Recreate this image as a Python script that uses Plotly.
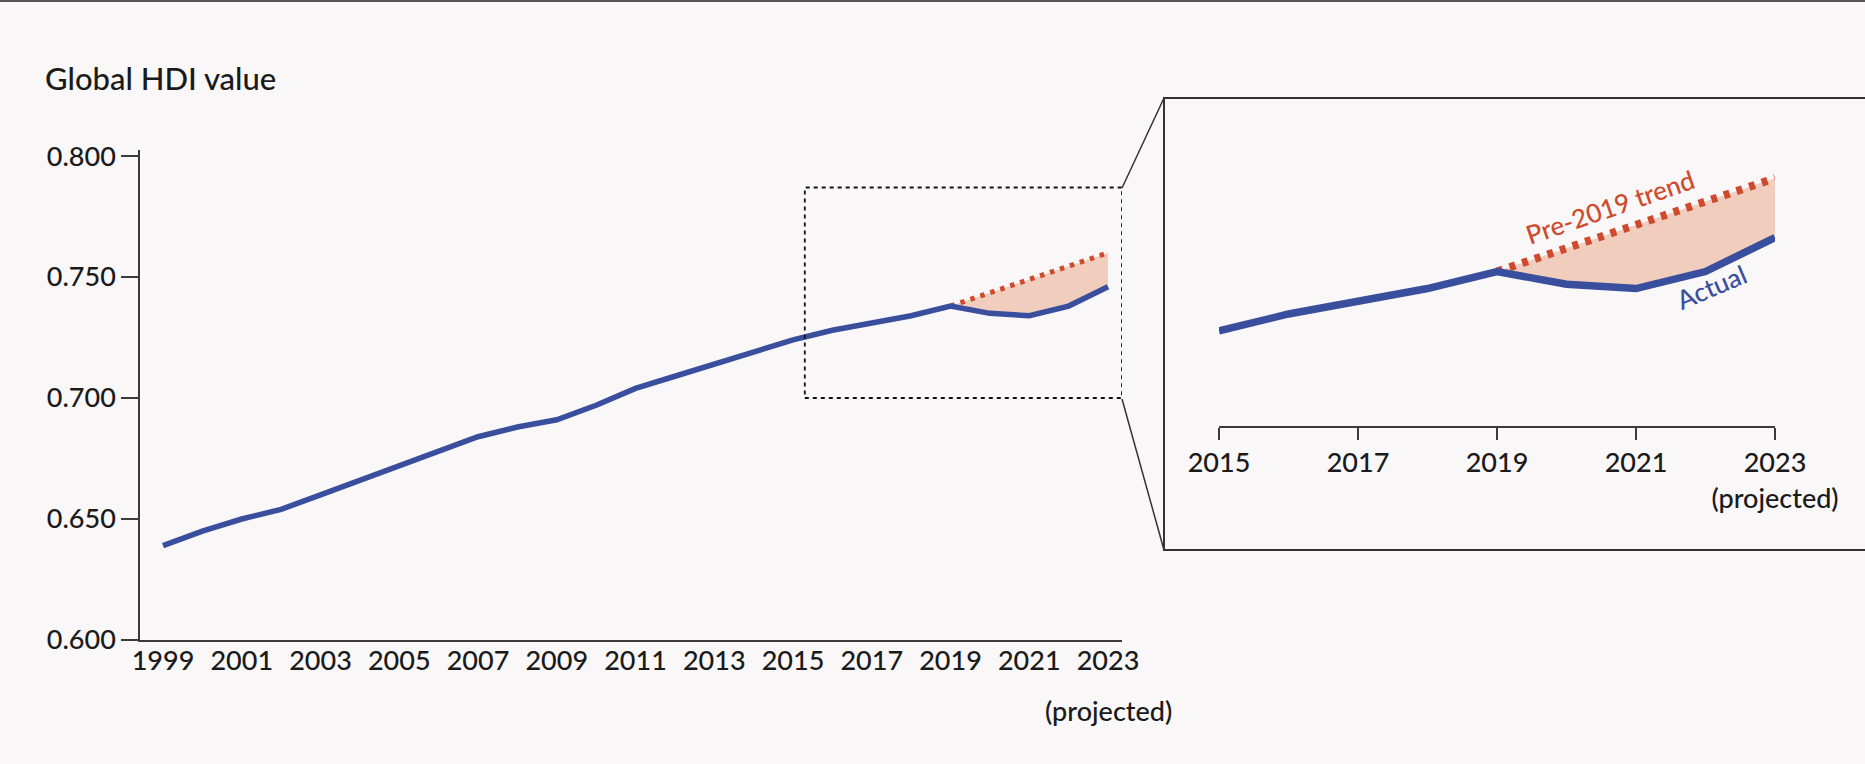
import plotly.graph_objects as go

# ---------------- data ----------------
years = list(range(1999, 2024))
hdi_actual = [0.639, 0.645, 0.650, 0.654, 0.660, 0.666, 0.672, 0.678, 0.684, 0.688,
              0.691, 0.697, 0.704, 0.709, 0.714, 0.719, 0.724, 0.728, 0.731, 0.734,
              0.738, 0.735, 0.734, 0.738, 0.746]
trend_years = [2019, 2023]
hdi_trend = [0.738, 0.760]

main_tickvals = list(range(1999, 2024, 2))
main_ticktext = [str(y) for y in main_tickvals]
projected_note = "(projected)"
inset_tickvals = [2015, 2017, 2019, 2021, 2023]
inset_ticktext = ["2015", "2017", "2019", "2021", "2023<br>(projected)"]
y_tickvals = [0.600, 0.650, 0.700, 0.750, 0.800]
y_ticktext = ["0.600", "0.650", "0.700", "0.750", "0.800"]

# ---------------- style ----------------
W, H = 1865, 764
BG = "#f9f7f8"
BLUE = "#3a4e9e"
RED = "#cf4a2c"
FILL = "#f0cdbd"
TXT = "#1a1a1a"
AX = "#3a3a3a"
FONT = "Lato"
WEIGHT = 500


def px(x):
    return x / W


def py(y):
    return 1 - y / H


i19 = years.index(2019)
i15 = years.index(2015)

fig = go.Figure()

# ---- main chart ----
fig.add_trace(go.Scatter(x=years[i19:], y=hdi_actual[i19:], mode="lines",
                         line=dict(width=0, color=BLUE), hoverinfo="skip",
                         xaxis="x", yaxis="y"))
fig.add_trace(go.Scatter(x=trend_years, y=hdi_trend, mode="lines", fill="tonexty",
                         fillcolor=FILL,
                         line=dict(color=RED, width=5, dash="4.5px,6px"),
                         xaxis="x", yaxis="y"))
fig.add_trace(go.Scatter(x=years, y=hdi_actual, mode="lines",
                         line=dict(color=BLUE, width=5.5),
                         xaxis="x", yaxis="y"))

# ---- inset ----
fig.add_trace(go.Scatter(x=years[i19:], y=hdi_actual[i19:], mode="lines",
                         line=dict(width=0, color=BLUE), hoverinfo="skip",
                         xaxis="x2", yaxis="y2"))
fig.add_trace(go.Scatter(x=trend_years, y=hdi_trend, mode="lines", fill="tonexty",
                         fillcolor=FILL,
                         line=dict(color=RED, width=8, dash="6px,7.3px"),
                         xaxis="x2", yaxis="y2"))
fig.add_trace(go.Scatter(x=years[i15:], y=hdi_actual[i15:], mode="lines",
                         line=dict(color=BLUE, width=7.5),
                         xaxis="x2", yaxis="y2"))

per_year = (1108 - 163) / 24.0
main_xrange = [1999 - (163 - 140) / per_year, 2023 + (1122 - 1108) / per_year]

tickfont = dict(family=FONT, size=27, color=TXT, weight=WEIGHT)

fig.update_layout(
    width=W, height=H, autosize=False,
    margin=dict(l=0, r=0, t=0, b=0, pad=0, autoexpand=False),
    paper_bgcolor=BG, plot_bgcolor=BG,
    showlegend=False,
    xaxis=dict(domain=[px(140), px(1122)], range=main_xrange, anchor="y",
               showline=True, linecolor=AX, linewidth=2, ticks="",
               tickmode="array", tickvals=main_tickvals, ticktext=main_ticktext,
               tickangle=0, automargin=False,
               tickfont=tickfont, showgrid=False, zeroline=False,
               ticklabelstandoff=-4),
    yaxis=dict(domain=[py(640), py(150)], range=[0.6, 0.8025], anchor="x",
               showline=True, linecolor=AX, linewidth=1.5, automargin=False,
               ticks="outside", ticklen=17, tickwidth=1.5, tickcolor=AX,
               tickmode="array", tickvals=y_tickvals, ticktext=y_ticktext,
               tickfont=tickfont, showgrid=False, zeroline=False),
    xaxis2=dict(domain=[px(1219), px(1775)], range=[2015, 2023], anchor="y2",
                showline=True, linecolor=AX, linewidth=2, automargin=False,
                ticks="outside", ticklen=12, tickwidth=2, tickcolor=AX,
                tickangle=0,
                tickmode="array", tickvals=inset_tickvals, ticktext=inset_ticktext,
                tickfont=tickfont, showgrid=False, zeroline=False),
    yaxis2=dict(domain=[py(426), py(98)], range=[0.7016, 0.7789], anchor="x2",
                visible=False, showgrid=False, zeroline=False, automargin=False),
)

shapes = []
# top page border
shapes.append(dict(type="line", xref="paper", yref="paper", x0=0, x1=1,
                   y0=py(1), y1=py(1), line=dict(color="#555555", width=2)))
# dashed zoom box on main chart
shapes.append(dict(type="rect", xref="x", yref="y", x0=2015.3, x1=main_xrange[1],
                   y0=0.700, y1=0.787, line=dict(color="#111111", width=1.8, dash="4px,4px")))
# inset frame
shapes.append(dict(type="rect", xref="paper", yref="paper", x0=px(1164), x1=1.02,
                   y0=py(550), y1=py(98), line=dict(color="#333333", width=2)))
# connectors
shapes.append(dict(type="line", xref="paper", yref="paper", x0=px(1122), y0=py(188),
                   x1=px(1164), y1=py(98), line=dict(color="#333333", width=1.5)))
shapes.append(dict(type="line", xref="paper", yref="paper", x0=px(1122), y0=py(399),
                   x1=px(1164), y1=py(550), line=dict(color="#333333", width=1.5)))

annotations = [
    dict(text="Global HDI value", xref="paper", yref="paper", x=px(43), y=py(78),
         xanchor="left", yanchor="middle", showarrow=False,
         font=dict(family=FONT, size=31, color=TXT, weight=WEIGHT)),
    dict(text=projected_note, xref="x", yref="paper", x=main_tickvals[-1], y=py(710),
         xanchor="center", yanchor="middle", showarrow=False,
         font=tickfont),
    dict(text="Pre-2019 trend", xref="paper", yref="paper", x=px(1610), y=py(207),
         xanchor="center", yanchor="middle", showarrow=False, textangle=-19,
         font=dict(family=FONT, size=26, color=RED, weight=WEIGHT)),
    dict(text="Actual", xref="paper", yref="paper", x=px(1711), y=py(287),
         xanchor="center", yanchor="middle", showarrow=False, textangle=-23,
         font=dict(family=FONT, size=26, color=BLUE, weight=WEIGHT)),
]

fig.update_layout(shapes=shapes, annotations=annotations)

fig.write_html("out.html")
